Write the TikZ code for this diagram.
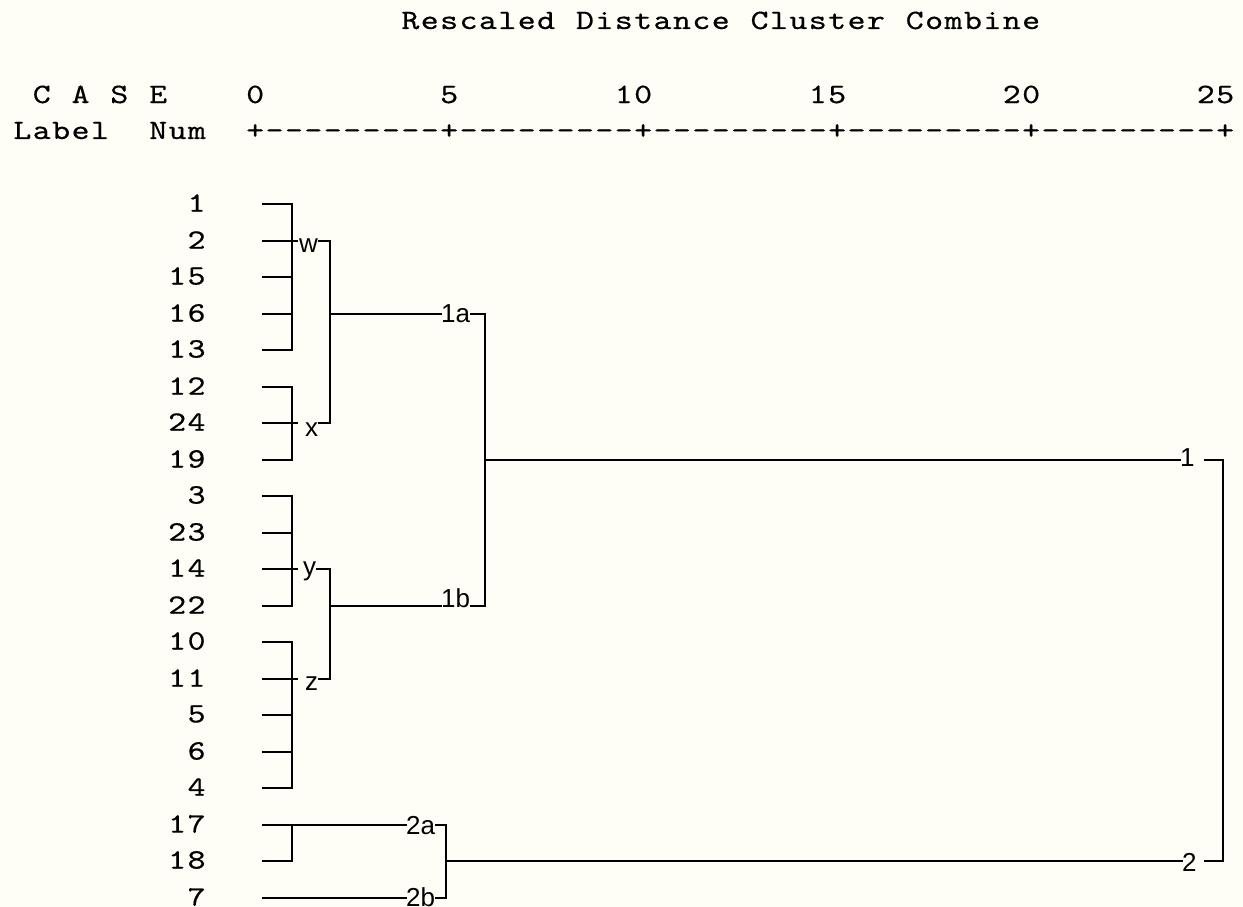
\documentclass[tikz,border=0pt]{standalone}
\usepackage{fontspec}
\newfontfamily\tagfont{Liberation Sans}
\newfontfamily\gridfont[FakeBold=0.5,FakeStretch=1.22]{lmmono10-regular.otf}
\definecolor{paper}{RGB}{254,254,247}
\newlength\cellw
\setlength\cellw{19.4pt}
% set a string on a fixed character grid, one cell per character
\ExplSyntaxOn
\NewDocumentCommand\gridtext{m}
  {
    \str_set:Nx \l_tmpa_str {#1}
    \str_map_inline:Nn \l_tmpa_str { \makebox[\cellw][c]{##1} }
  }
\ExplSyntaxOff
\begin{document}
\begin{tikzpicture}[x=1pt,y=-1pt,
  edge/.style={line width=2pt, line cap=rect, line join=miter},
  mono/.style={font=\gridfont\fontsize{28}{28}\selectfont, inner sep=0pt, anchor=base west},
  leaf/.style={font=\gridfont\fontsize{28}{28}\selectfont, inner sep=0pt, anchor=east},
  clab/.style={font=\tagfont\fontsize{26}{26}\selectfont, inner sep=0pt, anchor=base west}]
\fill[paper] (0,0) rectangle (1243,907);
\useasboundingbox (0,0) rectangle (1243,907);

% header
\node[mono] (title) at (12.5+19.4*20, 29) {\gridtext{Rescaled Distance Cluster Combine}};
\node[mono] (case) at (12.5+19.4*1, 103) {\gridtext{C A S E}};
\foreach \v/\k in {0/12,5/22,10/31,15/41,20/51,25/61}
  \node[mono] (t\v) at (12.5+19.4*\k, 103) {\gridtext{\v}};
\node[mono] (hlabel) at (12.5, 139) {\gridtext{Label}};
\node[mono] (hnum) at (12.5+19.4*7, 139) {\gridtext{Num}};
\node[mono] (axis) at (12.5+19.4*12, 139) {\gridtext{+---------+---------+---------+---------+---------+}};

% case numbers and the start of each leaf line
\foreach \lab [count=\i from 0] in {1,2,15,16,13,12,24,19,3,23,14,22,10,11,5,6,4,17,18,7} {
  \pgfmathtruncatemacro\yy{204+36.5*\i+0.5}
  \node[leaf] (n\lab) at (206.5, \yy-1) {\gridtext{\lab}};
  \coordinate (s\lab) at (263, \yy);
}
\coordinate (bx) at (292,0);
\coordinate (tk) at (297,0);

% first-level brackets
\foreach \lab in {1,15,16,13,12,19,3,23,22,10,5,6,4,18}
  \draw[edge] (s\lab) -- (s\lab -| bx);
\foreach \lab in {2,24,14,11}
  \draw[edge] (s\lab) -- (s\lab -| tk);
\draw[edge] (s1 -| bx) -- (s13 -| bx);
\draw[edge] (s12 -| bx) -- (s19 -| bx);
\draw[edge] (s3 -| bx) -- (s22 -| bx);
\draw[edge] (s10 -| bx) -- (s4 -| bx);
\draw[edge] (s17 -| bx) -- (s18 -| bx);

% cluster tags
\node[clab] (w) at (299, 252) {w};
\node[clab] (x) at (305, 436) {x};
\node[clab] (y) at (303, 575) {y};
\node[clab] (z) at (305, 690) {z};
\node[clab] (a1) at (441, 322) {1a};
\node[clab] (b1) at (441, 607) {1b};
\node[clab] (a2) at (406, 834) {2a};
\node[clab] (b2) at (406, 906) {2b};
\node[clab] (c1) at (1180, 466) {1};
\node[clab] (c2) at (1182, 871) {2};

% joints
\coordinate (jw) at (330, 241);
\coordinate (jx) at (330, 423);
\coordinate (jy) at (330, 569);
\coordinate (jz) at (330, 679);
\coordinate (j1a) at (485, 314);
\coordinate (j1b) at (485, 606);
\coordinate (j2a) at (446, 825);
\coordinate (j2b) at (446, 898);
\coordinate (r1) at (1205, 460);
\coordinate (q1) at (1223, 460);
\coordinate (q2) at (1223, 861);
\coordinate (r2) at (1205, 861);

% second-level merges
\draw[edge] ([xshift=1pt]w.east |- s2) -- (jw) -- (jx) -- ([xshift=1pt]x.east |- s24);
\draw[edge] ([xshift=1pt]y.east |- s14) -- (jy) -- (jz) -- ([xshift=1pt]z.east |- s11);
\draw[edge] (jw |- s16) -- (a1.west |- s16);
\draw[edge] (jy |- s22) -- (b1.west |- s22);
\draw[edge] ([xshift=1pt]a1.east |- s16) -- (j1a) -- (j1b) -- ([xshift=1pt]b1.east |- s22);
\draw[edge] (s17) -- (a2.west |- s17);
\draw[edge] (s7) -- (b2.west |- s7);
\draw[edge] ([xshift=1pt]a2.east |- s17) -- (j2a) -- (j2b) -- ([xshift=1pt]b2.east |- s7);

% top-level merge
\draw[edge] (j1a |- s19) -- (c1.west |- s19);
\draw[edge] (j2a |- s18) -- (c2.west |- s18);
\draw[edge] (r1) -- (q1) -- (q2) -- (r2);
\end{tikzpicture}
\end{document}
